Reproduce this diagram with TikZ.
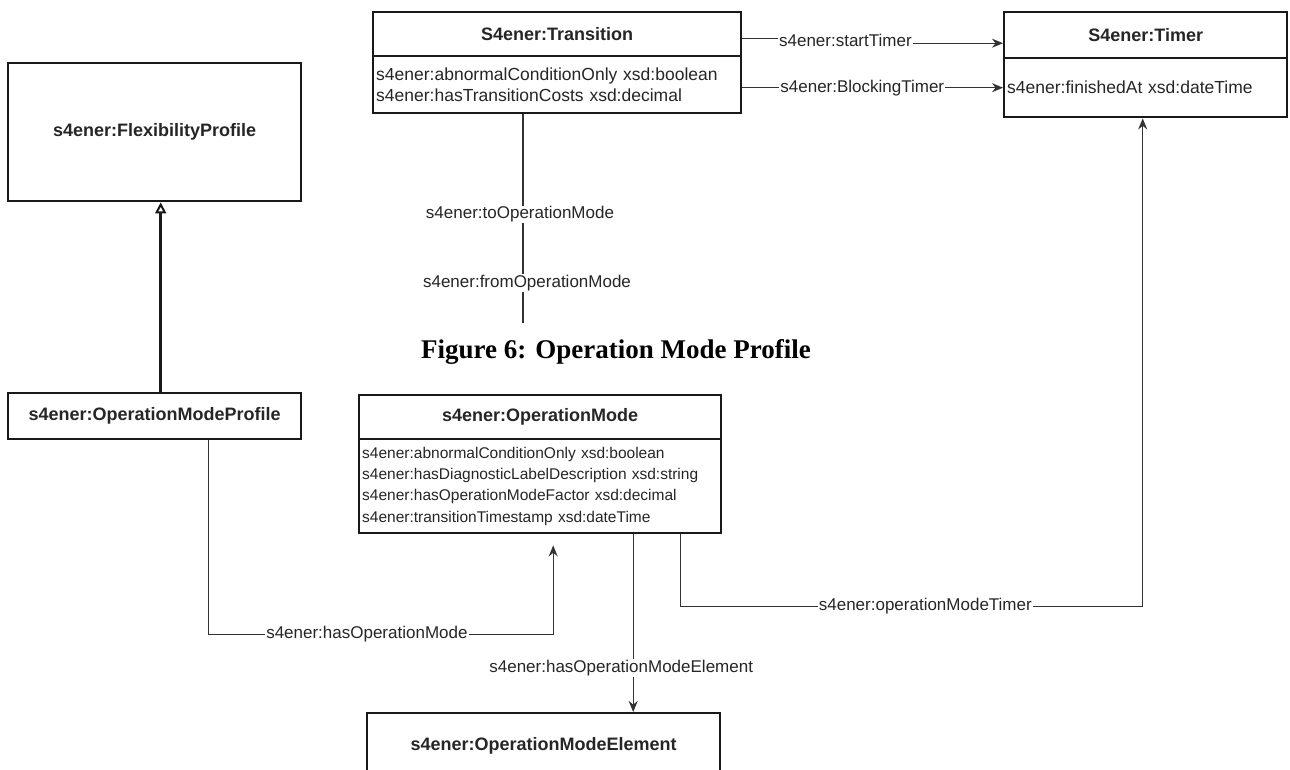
\documentclass[tikz,border=0pt]{standalone}
\usepackage{fontspec}
\setmainfont{Liberation Serif}
\setsansfont{Liberation Sans}
\usetikzlibrary{arrows.meta,positioning}

\tikzset{
	classbox/.style={draw=black!90, line width=2.4pt, fill=white, anchor=north west, inner sep=0pt,
		font=\sffamily\bfseries\fontsize{18}{20}\selectfont, text=black!85},
	attrbox/.style={classbox, font=\sffamily\fontsize{17.5}{21}\selectfont, align=left, inner xsep=3pt},
	smallattr/.style={attrbox, font=\sffamily\fontsize{15.5}{21.3}\selectfont},
	conn/.style={draw=black!80, line width=1.4pt},
	tip/.style={-{Stealth[length=11pt,width=9pt]}},
	lbl/.style={fill=white, inner sep=1pt, text=black!85, font=\sffamily\fontsize{17}{19}\selectfont}
}

\begin{document}
\begin{tikzpicture}[x=1pt,y=-1pt]
	\clip (0,0) rectangle (1290,769);
	\fill[white] (0,0) rectangle (1290,769);
	% Classes
	\node[classbox, minimum width=368pt, minimum height=44pt] (transtitle) at (372,11) {S4ener:Transition};
	\node[attrbox, minimum width=368pt, minimum height=57pt, text width=362pt] (transattr) at (372,55)
		{s4ener:abnormalConditionOnly xsd:boolean\\s4ener:hasTransitionCosts xsd:decimal};
	\node[classbox, minimum width=283pt, minimum height=46pt] (timertitle) at (1003,11) {S4ener:Timer};
	\node[attrbox, minimum width=283pt, minimum height=59pt, text width=277pt] (timerattr) at (1003,57)
		{s4ener:finishedAt xsd:dateTime};
	\node[classbox, minimum width=293pt, minimum height=138pt] (flex) at (7,62) {s4ener:FlexibilityProfile};
	\node[classbox, minimum width=293pt, minimum height=46pt] (omprofile) at (7,392) {s4ener:OperationModeProfile};
	\node[classbox, minimum width=362pt, minimum height=44pt] (omtitle) at (358,394) {s4ener:OperationMode};
	\node[smallattr, minimum width=362pt, minimum height=94pt, text width=356pt] (omattr) at (358,438)
		{s4ener:abnormalConditionOnly xsd:boolean\\s4ener:hasDiagnosticLabelDescription xsd:string\\
		 s4ener:hasOperationModeFactor xsd:decimal\\s4ener:transitionTimestamp xsd:dateTime};
	\node[classbox, minimum width=353pt, minimum height=66pt] (omelem) at (366,712) {s4ener:OperationModeElement};
	%Caption
	\node[font=\rmfamily\bfseries\fontsize{27}{30}\selectfont] (caption) at (616,352) {Figure 6: Operation Mode Profile};
	%Connectors
	\draw[conn, tip] ([yshift=-4pt]transtitle.east) -- ++(103,0) -- node[lbl] {s4ener:startTimer} ++(0,5)
		-- ([yshift=-8pt]timertitle.west);
	\draw[conn, tip] (transattr.east |- timerattr.west) -- node[lbl, pos=0.46] {s4ener:BlockingTimer} (timerattr.west);
	\coordinate (dangle) at (523,323);
	\draw[conn] (transattr.south -| dangle) -- node[lbl, pos=0.48, xshift=-3pt] {s4ener:toOperationMode}
		node[lbl, pos=0.81, xshift=4pt] {s4ener:fromOperationMode} (dangle);
	\draw[draw=black!90, line width=2.6pt, -{Triangle[open, length=11pt, width=11pt, line width=2pt]}]
		([xshift=6pt]omprofile.north) -- ([xshift=6pt]flex.south);
	\draw[conn, tip] ([xshift=53.5pt]omprofile.south) -- ++(0,194) -| node[lbl, pos=0.23] {s4ener:hasOperationMode}
		([xshift=13pt, yshift=-11pt]omattr.south);
	\draw[conn, tip] ([xshift=93pt]omattr.south) -- node[lbl, pos=0.75, xshift=-12pt] {s4ener:hasOperationModeElement}
		([xshift=93pt]omattr.south |- omelem.north);
	\draw[conn, tip] ([xshift=140pt]omattr.south) -- ++(0,72) -| node[lbl, pos=0.265] {s4ener:operationModeTimer}
		([xshift=-3pt]timerattr.south);
\end{tikzpicture}
\end{document}
